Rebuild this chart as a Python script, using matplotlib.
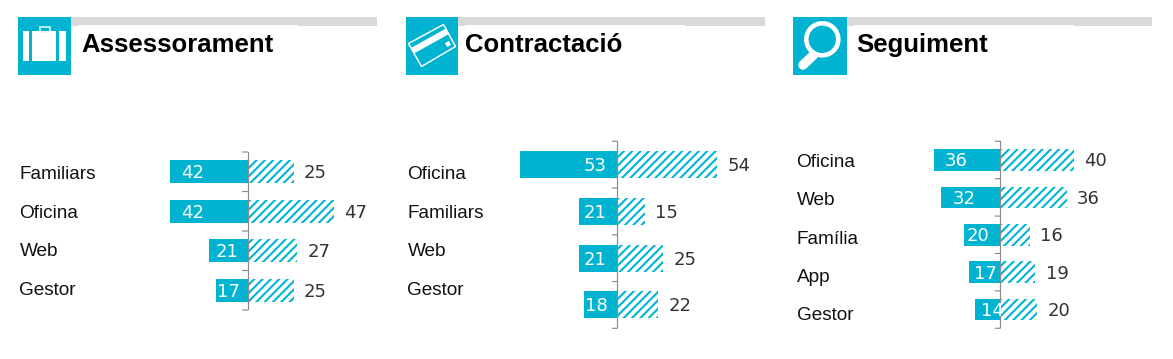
"""Paired bar charts for Assessorament, Contractacio and Seguiment."""

from __future__ import annotations

import matplotlib
matplotlib.use("Agg")
import matplotlib.pyplot as plt
import numpy as np
from matplotlib.patches import Circle, Polygon, Rectangle

WIDTH, HEIGHT, DPI = 1173, 359, 100
TEAL = "#00B4D1"
GREY = "#D9D9D9"
PX_PER_UNIT = 1.84

titles = ["Assessorament", "Contractació", "Seguiment"]

assess_cats = ["Familiars", "Oficina", "Web", "Gestor"]
assess_left = [42, 42, 21, 17]
assess_right = [25, 47, 27, 25]

contract_cats = ["Oficina", "Familiars", "Web", "Gestor"]
contract_left = [53, 21, 21, 18]
contract_right = [54, 15, 25, 22]

follow_cats = ["Oficina", "Web", "Família", "App", "Gestor"]
follow_left = [36, 32, 20, 17, 14]
follow_right = [40, 36, 16, 19, 20]

# layout in reference pixels, kept apart from the data
panels = [
    dict(cats=assess_cats, left=assess_left, right=assess_right,
         axis_x=247.5, top=152, bottom=310, label_x=19.5,
         label_y=[179, 218, 256, 295], inner=[11, 11, 7, 1],
         box=(18, 71), bar_end=377, title_x=81.5),
    dict(cats=contract_cats, left=contract_left, right=contract_right,
         axis_x=617.3, top=141.3, bottom=328.3, label_x=407.5,
         label_y=[179, 218, 256, 295], inner=[64, 5, 5, 1],
         box=(406, 458), bar_end=765, title_x=465.5),
    dict(cats=follow_cats, left=follow_left, right=follow_right,
         axis_x=1000.3, top=141.3, bottom=328.3, label_x=796.5,
         label_y=[167, 205, 244, 282, 320], inner=[11, 11, 3, 5, 6],
         box=(793, 847), bar_end=1152, title_x=856),
]


def px(width: float) -> float:
    return width * 72 / DPI


def draw_briefcase(ov) -> None:
    for x0, x1 in [(23, 29), (32, 56), (59, 66)]:
        ov.add_patch(Rectangle((x0, 31), x1 - x0, 30, fc="white", lw=0))
    ov.add_patch(Rectangle((39.5, 26.5), 10, 5, fc="none", ec="#E4F7FA", lw=px(1.6)))


def draw_card(ov) -> None:
    corners = [(408.5, 43.5), (443.5, 24.5), (455.5, 46.5), (421.5, 66.5)]
    ov.add_patch(Polygon(corners, closed=True, fc="none", ec="white",
                         lw=px(1.5), joinstyle="round"))
    ov.add_patch(Polygon([(411, 48), (446, 28.5), (449, 34), (414, 53.5)],
                         closed=True, fc="white", lw=0))
    ov.add_patch(Polygon([(445, 43), (449, 41), (451, 45), (447, 47)],
                         closed=True, fc="white", lw=0))


def draw_lens(ov) -> None:
    ov.plot([813.5, 803], [55, 65], color="white", lw=px(9.5),
            solid_capstyle="round")
    ov.add_patch(Circle((822.3, 39.3), 16, fc=TEAL, ec="white", lw=px(4.6),
                        zorder=3))


def draw_header(ov, panel: dict, title: str) -> None:
    x0, x1 = panel["box"]
    ov.add_patch(Rectangle((x1, 17), panel["bar_end"] - x1, 9, fc=GREY, lw=0))
    ov.add_patch(Rectangle((x1 + 7, 25), 220, 1.2, fc="white", lw=0))
    ov.add_patch(Rectangle((x0, 17), x1 - x0, 58, fc=TEAL, lw=0))
    ov.text(panel["title_x"], 52, title, fontsize=18.5, fontweight="bold",
            family="Liberation Sans", color="black", va="baseline", ha="left")


def draw_bars(fig, ov, panel: dict) -> None:
    n = len(panel["cats"])
    x_lo, x_hi = -60, 80
    left_px = panel["axis_x"] + x_lo * PX_PER_UNIT
    width_px = (x_hi - x_lo) * PX_PER_UNIT
    ax = fig.add_axes([left_px / WIDTH, 1 - panel["bottom"] / HEIGHT,
                       width_px / WIDTH,
                       (panel["bottom"] - panel["top"]) / HEIGHT])
    ax.patch.set_alpha(0)

    y = np.arange(n)
    left = np.array(panel["left"])
    right = np.array(panel["right"])
    ax.barh(y, -left, height=0.58, color=TEAL, linewidth=0)
    ax.barh(y, right, height=0.58, facecolor="white", edgecolor=TEAL,
            hatch="////", linewidth=0)

    ax.set_xlim(x_lo, x_hi)
    ax.set_ylim(n - 0.5, -0.5)
    ax.set_xticks([])
    ax.set_yticks([])
    for side in ax.spines:
        ax.spines[side].set_visible(False)
    ax.axvline(0, color="#8C8C8C", lw=px(1.2), zorder=4)
    for tick in np.arange(n + 1) - 0.5:
        ax.annotate("", xy=(0, tick), xytext=(-5, 0), textcoords="offset pixels",
                    annotation_clip=False,
                    arrowprops=dict(arrowstyle="-", color="#8C8C8C", lw=px(1.2),
                                    shrinkA=0, shrinkB=0))

    for i in range(n):
        ax.annotate(str(left[i]), xy=(-left[i], i),
                    xytext=(panel["inner"][i], -1.5), textcoords="offset pixels",
                    color="white", fontsize=13, family="DejaVu Sans",
                    ha="left", va="center", zorder=5, annotation_clip=False)
        ax.annotate(str(right[i]), xy=(right[i], i), xytext=(10.5, -1.5),
                    textcoords="offset pixels", color="#333333", fontsize=13,
                    family="DejaVu Sans", ha="left", va="center",
                    annotation_clip=False)
        ov.text(panel["label_x"], panel["label_y"][i], panel["cats"][i],
                fontsize=13.7, family="Liberation Sans", color="#111111",
                ha="left", va="baseline")


def main() -> None:
    plt.rcParams["hatch.linewidth"] = 1.5
    fig = plt.figure(figsize=(WIDTH / DPI, HEIGHT / DPI), dpi=DPI, facecolor="white")
    ov = fig.add_axes([0, 0, 1, 1])
    ov.set_xlim(0, WIDTH)
    ov.set_ylim(HEIGHT, 0)
    ov.axis("off")

    for panel, title in zip(panels, titles):
        draw_header(ov, panel, title)
        draw_bars(fig, ov, panel)
    draw_briefcase(ov)
    draw_card(ov)
    draw_lens(ov)

    fig.savefig("out.png", dpi=DPI)


if __name__ == "__main__":
    main()
